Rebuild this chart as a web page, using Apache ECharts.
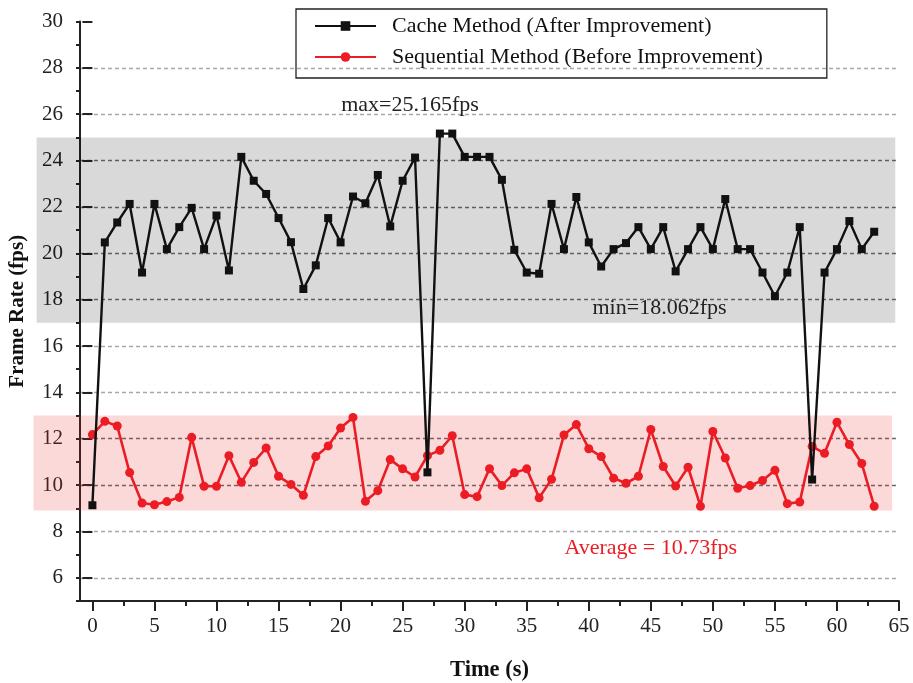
<!DOCTYPE html>
<html><head><meta charset="utf-8">
<script src="https://cdn.jsdelivr.net/npm/echarts@6/dist/echarts.min.js"></script>
<style>html,body{margin:0;padding:0;background:#fff}#c{width:913px;height:683px}</style>
</head><body><div id="c"></div>
<script>
const timeValues = [0,1,2,3,4,5,6,7,8,9,10,11,12,13,14,15,16,17,18,19,20,21,22,23,24,25,26,27,28,29,30,31,32,33,34,35,36,37,38,39,40,41,42,43,44,45,46,47,48,49,50,51,52,53,54,55,56,57,58,59,60,61,62,63];
const cacheFps = [9.13,20.47,21.33,22.13,19.17,22.13,20.18,21.13,21.96,20.18,21.63,19.26,24.16,23.13,22.56,21.52,20.48,18.46,19.48,21.52,20.47,22.45,22.16,23.38,21.16,23.13,24.13,10.55,25.165,25.165,24.16,24.16,24.16,23.17,20.15,19.17,19.12,22.13,20.18,22.43,20.47,19.43,20.18,20.44,21.13,20.18,21.13,19.22,20.18,21.13,20.18,22.34,20.18,20.18,19.17,18.15,19.17,21.13,10.24,19.17,20.18,21.39,20.18,20.93];
const sequentialFps = [12.18,12.75,12.55,10.54,9.23,9.15,9.29,9.47,12.06,9.95,9.95,11.27,10.12,10.98,11.6,10.38,10.03,9.56,11.23,11.69,12.46,12.92,9.3,9.76,11.1,10.7,10.35,11.27,11.5,12.13,9.59,9.5,10.71,9.98,10.53,10.7,9.45,10.25,12.16,12.61,11.57,11.23,10.3,10.08,10.38,12.4,10.8,9.96,10.77,9.09,12.31,11.17,9.86,9.98,10.2,10.64,9.2,9.27,11.67,11.37,12.71,11.75,10.93,9.09];
const xTickLabels = [0,5,10,15,20,25,30,35,40,45,50,55,60,65];
const xMinorTicks = [2.5,7.5,12.5,17.5,22.5,27.5,32.5,37.5,42.5,47.5,52.5,57.5,62.5];
const yTickLabels = [6,8,10,12,14,16,18,20,22,24,26,28,30];
// bands: [xStart, xEnd, yLow, yHigh]
const cacheBand = [-4.5, 64.7, 17, 25];
const sequentialBand = [-4.75, 64.45, 8.9, 13];
const seriesNames = ['Cache Method (After Improvement)', 'Sequential Method (Before Improvement)'];
const annotationTexts = ['max=25.165fps', 'min=18.062fps', 'Average = 10.73fps'];
const annotationCoords = [[25.6, 26.4], [45.7, 17.65], [45.0, 7.26]];

const FONT = 'Liberation Serif';
const xMin = -1, xMax = 65, yMin = 5, yMax = 30;

const gridColors = [];
for (let v = yMin; v <= yMax; v++) {
  let c = 'rgba(0,0,0,0)';
  if (v % 2 === 0 && v !== yMax) {
    if (v > cacheBand[2] && v < cacheBand[3]) c = '#707070';
    else if (v > sequentialBand[2] && v < sequentialBand[3]) c = '#6a6a6a';
    else c = '#a8a8a8';
  }
  gridColors.push(c);
}

function bandRender(fill) {
  return function (params, api) {
    const p0 = api.coord([api.value(0), api.value(3)]);
    const p1 = api.coord([api.value(1), api.value(2)]);
    return {type: 'rect', shape: {x: p0[0], y: p0[1], width: p1[0] - p0[0], height: p1[1] - p0[1]},
      style: {fill: fill}};
  };
}

const chart = echarts.init(document.getElementById('c'), null, {renderer: 'canvas'});
chart.setOption({
  animation: false,
  backgroundColor: '#fff',
  textStyle: {fontFamily: FONT},
  grid: {left: 80, right: 14, top: 21.5, bottom: 82, containLabel: false, outerBoundsMode: 'none'},
  legend: {
    orient: 'vertical',
    left: 296, top: 9,
    padding: [6, 64, 10, 18],
    itemGap: 9,
    itemWidth: 61, itemHeight: 12,
    borderColor: '#222', borderWidth: 1.3,
    data: seriesNames,
    textStyle: {fontFamily: FONT, fontSize: 22, color: '#111', padding: [0, 0, 0, 11]}
  },
  xAxis: [{
    type: 'value', min: xMin, max: xMax,
    name: 'Time (s)', nameLocation: 'middle', nameGap: 58,
    nameTextStyle: {fontFamily: FONT, fontSize: 22.5, fontWeight: 'bold', color: '#111'},
    axisLine: {show: true, onZero: false, lineStyle: {color: '#222', width: 2}},
    axisTick: {show: true, customValues: xTickLabels, length: 10, lineStyle: {color: '#222', width: 2}},
    axisLabel: {customValues: xTickLabels, margin: 15, fontFamily: FONT, fontSize: 21, color: '#222'},
    splitLine: {show: false}
  }, {
    type: 'value', min: xMin, max: xMax, position: 'bottom',
    axisLine: {show: false},
    axisTick: {show: true, customValues: xMinorTicks, length: 5, lineStyle: {color: '#222', width: 2}},
    axisLabel: {show: false},
    splitLine: {show: false}
  }],
  yAxis: [{
    type: 'value', min: yMin, max: yMax, interval: 1,
    name: 'Frame Rate (fps)', nameLocation: 'middle', nameGap: 52,
    nameTextStyle: {fontFamily: FONT, fontSize: 21, fontWeight: 'bold', color: '#111'},
    axisLine: {show: true, onZero: false, lineStyle: {color: '#222', width: 2}},
    axisTick: {show: true, length: 4, lineStyle: {color: '#222', width: 2}},
    axisLabel: {margin: 17, fontFamily: FONT, fontSize: 21, color: '#222',
      formatter: v => (yTickLabels.indexOf(v) >= 0 ? String(v) : '')},
    splitLine: {show: true, lineStyle: {color: gridColors, width: 1.3, type: [4, 3]}}
  }, {
    type: 'value', min: yMin, max: yMax, position: 'left',
    axisLine: {show: false},
    axisTick: {show: true, customValues: yTickLabels, length: 10, lineStyle: {color: '#222', width: 2}},
    axisLabel: {show: false},
    splitLine: {show: false}
  }],
  series: [{
    type: 'custom', name: 'band-cache', xAxisIndex: 0, yAxisIndex: 0, z: 1, clip: false, silent: true,
    data: [cacheBand], renderItem: bandRender('rgba(0,0,0,0.15)')
  }, {
    type: 'custom', name: 'band-seq', xAxisIndex: 0, yAxisIndex: 0, z: 1, clip: false, silent: true,
    data: [sequentialBand], renderItem: bandRender('rgba(240,40,40,0.177)')
  }, {
    name: seriesNames[1],
    type: 'line', xAxisIndex: 0, yAxisIndex: 0, z: 2,
    data: timeValues.map((t, i) => [t, sequentialFps[i]]),
    symbol: 'circle', symbolSize: 9,
    lineStyle: {color: '#ec1c24', width: 2.6},
    itemStyle: {color: '#ec1c24'}
  }, {
    name: seriesNames[0],
    type: 'line', xAxisIndex: 0, yAxisIndex: 0, z: 3,
    data: timeValues.map((t, i) => [t, cacheFps[i]]),
    symbol: 'rect', symbolSize: 8,
    lineStyle: {color: '#111', width: 2.4},
    itemStyle: {color: '#111'},
    markPoint: {
      silent: true,
      symbol: 'rect', symbolSize: 1,
      itemStyle: {color: 'rgba(0,0,0,0)'},
      label: {show: true, position: 'inside', formatter: '{b}', fontFamily: FONT, fontSize: 22, color: '#222'},
      data: annotationTexts.map((txt, i) => ({
        name: txt, coord: annotationCoords[i],
        label: i === 2 ? {color: '#ec1c24'} : {}
      }))
    }
  }]
});
</script></body></html>
